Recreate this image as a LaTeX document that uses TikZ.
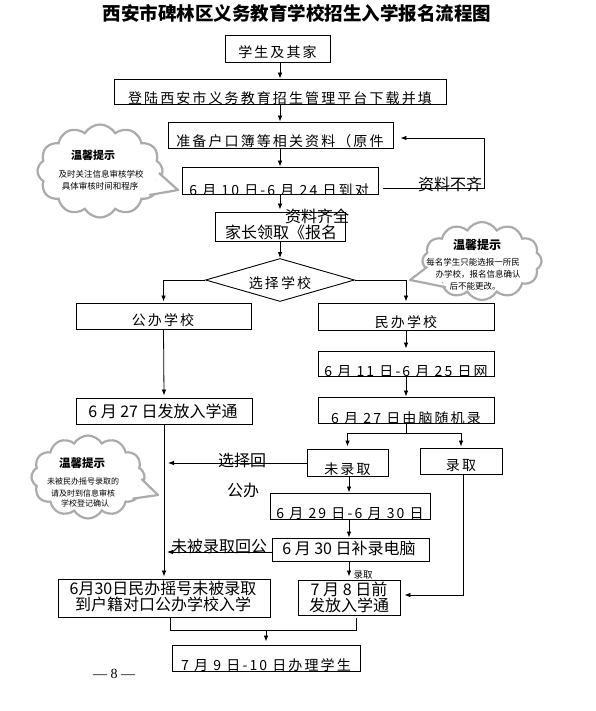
\documentclass[tikz,border=0pt]{standalone}
\usepackage{fontspec}
\setmainfont{Noto Sans CJK SC}
\newfontfamily\pagefont{Liberation Serif}
\usetikzlibrary{arrows.meta,fit,calc,shapes.geometric,shapes.symbols}
\newcommand{\cliptext}[5]{%
  \begin{scope}\clip (#1.south west) rectangle (#1.north east);
  \node[#3] (#5) at #2 {#4};\end{scope}}
\newcommand{\cloudtail}[4]{% #1 cloud, #2 angle1, #3 angle2, #4 tip
  \coordinate (#1p) at ($(#1.#2)!0.07!(#1.center)$);
  \coordinate (#1q) at ($(#1.#3)!0.07!(#1.center)$);
  \filldraw[tail] (#1p) -- #4 -- (#1q);}
\tikzset{
 bx/.style={draw, line width=0.9pt, inner sep=0pt},
 sp/.style={inner sep=0pt, font=\fontsize{14}{14}\selectfont\addfontfeature{LetterSpace=15}},
 tg/.style={inner sep=0pt, align=center, font=\fontsize{16}{13}\selectfont},
 arr/.style={line width=0.8pt, -{Latex[length=6pt,width=4.5pt]}},
 ln/.style={line width=0.8pt},
 cld/.style={cloud, cloud puffs=12, cloud puff arc=120, cloud ignores aspect, draw=black!33, line width=2.2pt, fill=white, inner sep=0pt},
 tail/.style={draw=black!33, line width=2.2pt, fill=white, line join=round},
 ctitle/.style={inner sep=0pt, font=\fontsize{11}{11}\selectfont\bfseries},
 ctext/.style={inner sep=0pt, font=\fontsize{8.5}{12}\selectfont},
}
\begin{document}
\begin{tikzpicture}[x=1pt,y=-1pt]
\useasboundingbox (0,0) rectangle (595,711);
\fill[white] (0,0) rectangle (595,711);

% title
\node[inner sep=0pt, font=\bfseries\fontsize{18.5}{19}\selectfont] (title) at (297,13) {西安市碑林区义务教育学校招生入学报名流程图};

% clouds
\node[cld, minimum width=125pt, minimum height=93pt] (c1) at (100,171) {};
\cloudtail{c1}{-2}{-26}{(178,190)}
\node[ctitle] (c1t) at (93,155) {温馨提示};
\node[ctext] (c1a) at (101,174) {及时关注信息审核学校};
\node[ctext] (c1b) at (100,186) {具体审核时间和程序};

\node[cld, minimum width=119pt, minimum height=78pt] (c2) at (482,261) {};
\cloudtail{c2}{186}{216}{(410,280)}
\node[ctitle, font=\bfseries\fontsize{12}{12}\selectfont] (c2t) at (477,245) {温馨提示};
\node[ctext] (c2a) at (473,262) {每名学生只能选报一所民};
\node[ctext] (c2b) at (478,274) {办学校，报名信息确认};
\node[ctext] (c2c) at (475,286) {后不能更改。};

\node[cld, minimum width=113pt, minimum height=83pt] (c3) at (88,477) {};
\cloudtail{c3}{-2}{-26}{(158,495)}
\node[ctitle, font=\bfseries\fontsize{11.5}{12}\selectfont] (c3t) at (82,463) {温馨提示};
\node[ctext, font=\fontsize{8}{12}\selectfont] (c3a) at (83,481) {未被民办摇号录取的};
\node[ctext, font=\fontsize{8}{12}\selectfont] (c3b) at (83,493) {请及时到信息审核};
\node[ctext, font=\fontsize{8}{12}\selectfont] (c3c) at (85,503) {学校登记确认};

% boxes
\node[bx, fit={(225,35) (330,62)}] (b1) {};
\node[sp] (t1) at (277.5,52) {学生及其家};
\node[bx, fit={(114,79) (446,104)}] (b2) {};
\cliptext{b2}{(280,98)}{sp}{登陆西安市义务教育招生管理平台下载并填}{t2}
\node[bx, fit={(168,122) (393,148)}] (b3) {};
\cliptext{b3}{(280,141)}{sp}{准备户口簿等相关资料（原件}{t3}
\node[bx, fit={(182,167) (378,194)}] (b4) {};
\cliptext{b4}{(279,190)}{sp}{6 月 10 日-6 月 24 日到对}{t4}
\node[bx, fit={(215,212) (345,241)}] (b5) {};
\cliptext{b5}{(281,232)}{tg}{家长领取《报名}{t5}

\node[diamond, draw, line width=0.9pt, minimum width=149pt, minimum height=43pt, inner sep=0pt] (dia) at (280,280) {};
\node[sp] (tdia) at (280,283) {选择学校};

\node[bx, fit={(76,303) (251,329)}] (pub) {};
\node[sp] (tpub) at (163,320) {公办学校};
\node[bx, fit={(318,303) (494,330)}] (pri) {};
\cliptext{pri}{(406,322)}{sp}{民办学校}{tpri}

\node[bx, fit={(318,351) (494,376)}] (b11) {};
\cliptext{b11}{(406,372)}{sp}{6 月 11 日-6 月 25 日网}{t11}
\node[bx, fit={(318,397) (494,423)}] (b27r) {};
\cliptext{b27r}{(406,418)}{sp}{6 月 27 日由脑随机录}{t27r}
\node[bx, fit={(76,398) (252,424)}] (b27l) {};
\cliptext{b27l}{(163,411)}{tg}{6 月 27 日发放入学通}{t27l}

\node[bx, fit={(307,449) (388,476)}] (wlq) {};
\cliptext{wlq}{(347.5,469)}{sp}{未录取}{twlq}
\node[bx, fit={(420,448) (502,474)}] (lq) {};
\cliptext{lq}{(461,466)}{sp}{录取}{tlq}

\node[bx, fit={(270,493) (430,519)}] (b29) {};
\cliptext{b29}{(350,514)}{sp}{6 月 29 日-6 月 30 日}{t29}
\node[bx, fit={(272,538) (429,561)}] (b30) {};
\cliptext{b30}{(349,548)}{tg}{6 月 30 日补录电脑}{t30}

\node[bx, fit={(58,579) (270,617)}] (bmb) {};
\cliptext{bmb}{(163,596.5)}{tg}{6月30日民办摇号未被录取\\到户籍对口公办学校入学}{tmb}
\node[bx, fit={(298,580) (400,615)}] (b78) {};
\cliptext{b78}{(349,597.5)}{tg}{7 月 8 日前\\发放入学通}{t78}

\node[bx, fit={(172,645) (360,671)}] (bfin) {};
\cliptext{bfin}{(266,665)}{sp}{7 月 9 日-10 日办理学生}{tfin}

% labels
\node[tg] (l1) at (450,184) {资料不齐};
\node[tg] (l2) at (317,216) {资料齐全};
\node[tg] (l3) at (242,460) {选择回};
\node[tg] (l4) at (243,490) {公办};
\node[tg] (l5) at (219,546) {未被录取回公};
\node[inner sep=0pt, font=\fontsize{9.5}{10}\selectfont] (l6) at (363,575) {录取};
\node[inner sep=0pt, font=\pagefont\fontsize{14}{14}\selectfont] (pg) at (114,674) {— 8 —};

% connectors
\coordinate (cx) at (280,0);
\draw[arr] (b1.south -| cx) -- (b2.north -| cx);
\draw[arr] (b2.south -| cx) -- (b3.north -| cx);
\draw[arr] (b3.south -| cx) -- (b4.north -| cx);
\draw[arr] (b4.south -| cx) -- ([yshift=2pt]b5.north -| cx);
\draw[arr] (b5.south -| cx) -- (dia.north);

\coordinate (fb0) at (383,188);
\coordinate (fb1) at (484,188);
\coordinate (fb2) at (484,138);
\path (fb2 -| b3.east) coordinate (fb3);
\draw[arr] (fb0) -- (fb1) -- (fb2) -- ([xshift=7pt]fb3);

\draw[arr] (dia.west) -| ([yshift=1pt]pub.north);
\draw[arr] (dia.east) -| ([yshift=1pt]pri.north);
\draw[arr] (pri.south) -- ([yshift=2pt]b11.north);
\draw[arr] (b11.south) -- (b27r.north);
\draw[arr] (pub.south) -- ([yshift=2pt]b27l.north);
\draw[arr] (b27l.south) -- ([yshift=2pt]bmb.north);

\coordinate (j1) at (406,433);
\draw[ln] (b27r.south) -- (j1);
\draw[arr] (j1) -| ([yshift=2pt]wlq.north);
\draw[arr] (j1) -| ([yshift=1pt]lq.north);

\coordinate (vl) at (168,463);
\draw[arr] (wlq.west |- vl) -- (vl);
\coordinate (ax) at (349,0);
\draw[arr] (wlq.south -| ax) -- (b29.north -| ax);
\draw[arr] (b29.south -| ax) -- (b30.north -| ax);
\coordinate (vl2) at (167,552);
\draw[arr] (b30.west |- vl2) -- (vl2);
\draw[arr] (b30.south -| ax) -- ([yshift=3pt]b78.north -| ax);

\coordinate (rq) at (463,595);
\draw[arr] (lq.south -| rq) -- (rq) -- ([xshift=4pt]b78.east |- rq);

\coordinate (m1) at (170,630);
\coordinate (m2) at (356,630);
\coordinate (m3) at (356,618);
\draw[ln] (bmb.south -| m1) -- (m1) -- (m2) -- (m3);
\draw[arr] (m1 -| bfin.north) -- ([yshift=3pt]bfin.north);
\end{tikzpicture}
\end{document}
